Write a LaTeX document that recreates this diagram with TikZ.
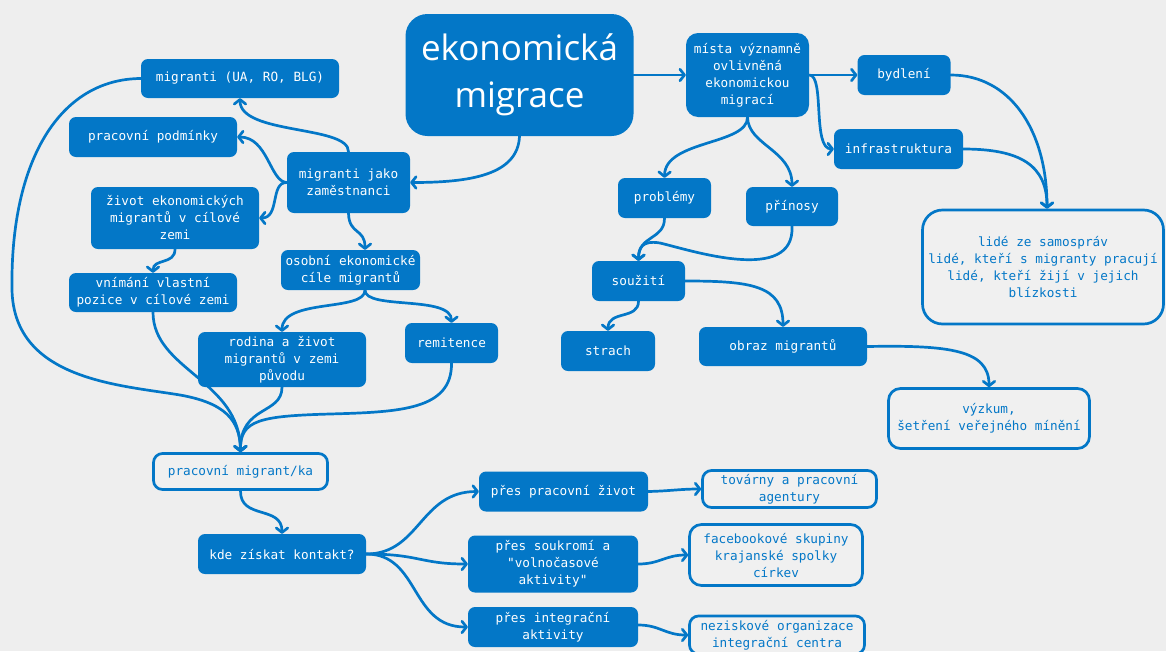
\documentclass[tikz,border=0pt]{standalone}
\usepackage{fontspec}
\usetikzlibrary{arrows.meta}
\newfontfamily\monof{DejaVu Sans Mono}
\newfontfamily\titlef{Open Sans}
\definecolor{mblue}{RGB}{3,119,199}
\definecolor{bgc}{RGB}{238,238,238}
\definecolor{obfill}{RGB}{240,240,240}
\begin{document}
\begin{tikzpicture}[x=1pt,y=-1pt,
  fb/.style={fill=mblue,text=white,rounded corners=7pt,inner sep=0pt,align=center,font=\monof\fontsize{12.7}{17}\selectfont},
  ob/.style={draw=mblue,line width=2.7pt,fill=obfill,text=mblue,rounded corners=9pt,inner sep=0pt,align=center,font=\monof\fontsize{12.7}{17}\selectfont},
  conn/.style={draw=mblue,line width=2.7pt,line cap=round,-{Straight Barb[length=4.5pt,width=11.5pt,round]}}]
\useasboundingbox (0,0) rectangle (1166,651);
\fill[bgc] (0,0) rectangle (1166,651);

% nodes left
\node[fb,minimum width=228pt,minimum height=122pt,rounded corners=22pt,font=\titlef\fontsize{35}{47}\selectfont] (title) at (519.5,75) {ekonomická\\migrace};
\node[fb,minimum width=198pt,minimum height=39pt] (mua) at (240,78.5) {migranti (UA, RO, BLG)};
\node[fb,minimum width=168pt,minimum height=40pt] (pp) at (153,137) {pracovní podmínky};
\node[fb,minimum width=123pt,minimum height=61pt] (mjz) at (348.5,182.5) {migranti jako\\zaměstnanci};
\node[fb,minimum width=168pt,minimum height=62pt] (ziv) at (175,218) {život ekonomických\\migrantů v cílové\\zemi};
\node[fb,minimum width=168pt,minimum height=39pt] (vnim) at (153,292.5) {vnímání vlastní\\pozice v cílové zemi};
\node[fb,minimum width=139pt,minimum height=40pt] (osob) at (350.5,270) {osobní ekonomické\\cíle migrantů};
\node[fb,minimum width=168pt,minimum height=55pt] (rod) at (282,359.5) {rodina a život\\migrantů v zemi\\původu};
\node[fb,minimum width=93pt,minimum height=40pt] (remit) at (451.5,343) {remitence};
\node[ob,minimum width=174pt,minimum height=36pt] (pm) at (240.5,471.5) {pracovní migrant/ka};
\node[fb,minimum width=168pt,minimum height=40pt] (kde) at (282,554) {kde získat kontakt?};
\node[fb,minimum width=169pt,minimum height=40pt] (ppz) at (563.5,491.5) {přes pracovní život};
\node[fb,minimum width=170pt,minimum height=57pt] (psa) at (553,564) {přes soukromí a\\"volnočasové\\aktivity"};
\node[fb,minimum width=170pt,minimum height=40pt] (pia) at (553,627) {přes integrační\\aktivity};
\node[ob,minimum width=174pt,minimum height=37pt] (tov) at (789.5,489) {továrny a pracovní\\agentury};
\node[ob,minimum width=173pt,minimum height=61pt,rounded corners=12pt] (fbk) at (776,555) {facebookové skupiny\\krajanské spolky\\církev};
\node[ob,minimum width=175pt,minimum height=38pt] (nez) at (777,635) {neziskové organizace\\integrační centra};

% nodes right
\node[fb,minimum width=123pt,minimum height=84pt,rounded corners=12pt] (mista) at (747.5,75) {místa významně\\ovlivněná\\ekonomickou\\migrací};
\node[fb,minimum width=93pt,minimum height=40pt] (byd) at (904,75) {bydlení};
\node[fb,minimum width=129pt,minimum height=40pt] (infra) at (898.5,149) {infrastruktura};
\node[ob,minimum width=241pt,minimum height=114pt,rounded corners=20pt] (lide) at (1043,267) {lidé ze samospráv\\lidé, kteří s migranty pracují\\lidé, kteří žijí v jejich\\blízkosti};
\node[fb,minimum width=93pt,minimum height=40pt] (prob) at (664.5,198) {problémy};
\node[fb,minimum width=92pt,minimum height=39pt] (prin) at (792,206.5) {přínosy};
\node[fb,minimum width=93pt,minimum height=40pt] (souz) at (638.5,281) {soužití};
\node[fb,minimum width=94pt,minimum height=40pt] (strach) at (608,351) {strach};
\node[fb,minimum width=168pt,minimum height=39pt] (obraz) at (783,346.5) {obraz migrantů};
\node[ob,minimum width=201pt,minimum height=60pt,rounded corners=12pt] (vyzk) at (989,418.5) {výzkum,\\šetření veřejného mínění};

% connectors left
\draw[conn] (title.south) .. controls (518,175) and (470,182.5) .. (mjz.east);
\draw[conn] (title.east) -- (mista.west);
\draw[conn] (mjz.north) .. controls (349,125) and (240,135) .. (mua.south);
\draw[conn] (mjz.west) .. controls (270,182) and (268,137) .. (pp.east);
\draw[conn] (mjz.west) .. controls (270,182) and (280,218) .. (ziv.east);
\draw[conn] (mjz.south) .. controls (349,235) and (365,228) .. ([xshift=14.5pt]osob.north);
\draw[conn] (ziv.south) .. controls (175,265) and (153,258) .. (vnim.north);
\draw[conn] ([xshift=14.5pt]osob.south) .. controls (365,312) and (282,298) .. (rod.north);
\draw[conn] ([xshift=14.5pt]osob.south) .. controls (365,310) and (451.5,295) .. (remit.north);
\draw[conn] (mua.west) .. controls (60,79) and (10,160) .. (12,290) .. controls (14,380) and (120,385) .. (180,395) .. controls (225,403) and (240,420) .. (pm.north);
\draw[conn] (vnim.south) .. controls (153,370) and (240,380) .. (pm.north);
\draw[conn] (rod.south) .. controls (282,415) and (240,405) .. (pm.north);
\draw[conn] (remit.south) .. controls (452,410) and (400,412) .. (330,414) .. controls (260,416) and (240,420) .. (pm.north);
\draw[conn] (pm.south) .. controls (240,520) and (282,505) .. (kde.north);
\draw[conn] (kde.east) .. controls (420,554) and (420,491.5) .. (ppz.west);
\draw[conn] (kde.east) .. controls (420,554) and (420,564) .. (psa.west);
\draw[conn] (kde.east) .. controls (420,554) and (410,627) .. (pia.west);
\draw[conn] (ppz.east) .. controls (670,491) and (680,489) .. (tov.west);
\draw[conn] (psa.east) .. controls (660,564) and (665,555) .. (fbk.west);
\draw[conn] ([yshift=2pt]pia.east) .. controls (660,625) and (665,635) .. (nez.west);

% connectors right
\draw[conn] (mista.east) -- (byd.west);
\draw[conn] (mista.east) .. controls (825,75) and (812,149) .. (infra.west);
\draw[conn] (byd.east) .. controls (1010,75) and (1047,130) .. ([xshift=4pt]lide.north);
\draw[conn] (infra.east) .. controls (1020,149) and (1047,165) .. ([xshift=4pt]lide.north);
\draw[conn] (mista.south) .. controls (748,145) and (665,140) .. (prob.north);
\draw[conn] (mista.south) .. controls (748,145) and (792,150) .. (prin.north);
\draw[conn] (prob.south) .. controls (664.5,240) and (638.5,235) .. (souz.north);
\draw[conn] (prin.south) .. controls (795,285) and (690,250) .. (660,243) .. controls (642,240) and (638.5,248) .. (souz.north);
\draw[conn] (souz.south) .. controls (638.5,320) and (608,310) .. (strach.north);
\draw[conn] (souz.east) .. controls (750,281) and (783,285) .. (obraz.north);
\draw[conn] (obraz.east) .. controls (950,345) and (989,350) .. (vyzk.north);
\end{tikzpicture}
\end{document}
